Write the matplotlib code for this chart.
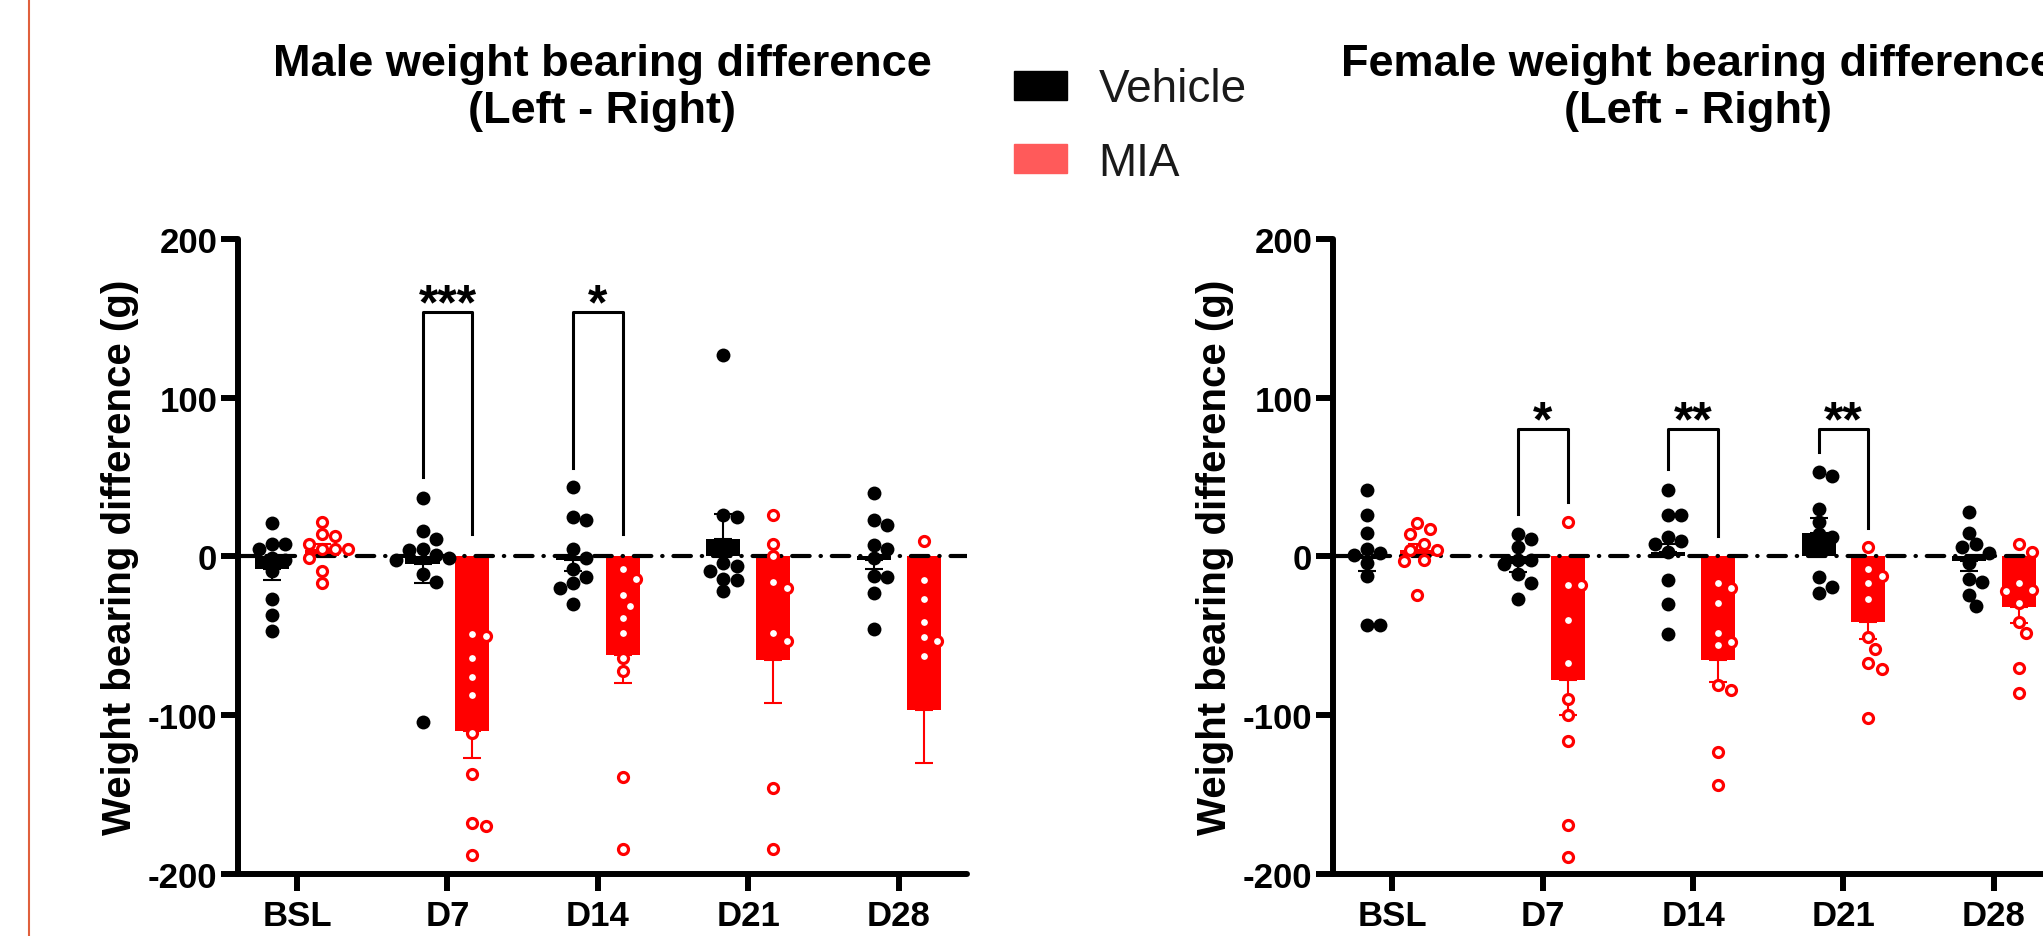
import numpy as np
import matplotlib
matplotlib.use("Agg")
import matplotlib.pyplot as plt
from matplotlib.patches import Patch
from matplotlib.lines import Line2D

plt.rcParams['font.family'] = ['Liberation Sans', 'DejaVu Sans']
plt.rcParams['axes.unicode_minus'] = False

days = ['BSL', 'D7', 'D14', 'D21', 'D28']

# male, individual animals (g)
male_veh_pts = [
    [21, 8, 8, 5, -1, -2, -9, -27, -37, -47],
    [37, 16, 11, 5, 4, 1, -1, -2, -11, -16, -104],
    [44, 25, 23, 5, -1, -8, -13, -17, -20, -30],
    [127, 26, 25, -4, -6, -9, -14, -15, -22],
    [40, 23, 20, 7, 5, -1, -12, -13, -23, -46],
]
male_mia_pts = [
    [22, 14, 13, 8, 5, 5, 5, -1, -9, -17],
    [-49, -50, -64, -76, -87, -111, -137, -168, -170, -188],
    [-8, -14, -24, -31, -39, -48, -64, -72, -139, -184],
    [26, 8, 0, -16, -20, -48, -53, -146, -184],
    [10, -15, -27, -41, -51, -53, -63],
]
male_veh_mean = [-8, -5, -2, 11, -2]
male_veh_sem = [7, 12, 7, 16, 6]
male_mia_mean = [4, -110, -62, -65, -97]
male_mia_sem = [4, 17, 18, 27, 33]

# female, individual animals (g)
female_veh_pts = [
    [42, 26, 15, 5, 2, 1, -4, -12, -43, -43],
    [14, 11, 6, -2, -2, -5, -11, -17, -27],
    [42, 26, 26, 12, 10, 8, 3, -15, -30, -49],
    [53, 51, 30, 22, 14, 12, 6, -13, -19, -23],
    [28, 15, 8, 6, 2, -4, -14, -16, -24, -31],
]
female_mia_pts = [
    [21, 17, 14, 8, 4, 4, -2, -3, -24],
    [22, -18, -18, -40, -67, -90, -100, -116, -169, -189],
    [-17, -20, -29, -48, -54, -56, -81, -84, -123, -144],
    [6, -8, -12, -17, -27, -51, -58, -67, -71, -102],
    [8, 3, -17, -21, -22, -29, -41, -48, -70, -86],
]
female_veh_mean = [-1, -4, 3, 15, -3]
female_veh_sem = [8, 6, 5, 9, 6]
female_mia_mean = [4, -78, -65, -41, -32]
female_mia_sem = [4, 22, 14, 11, 10]

# significance brackets: (day index, label, top, left leg end, right leg end)
male_sig = [(1, '***', 154, 50, 14), (2, '*', 154, 56, 14)]
female_sig = [(1, '*', 80, 27, 34), (2, '**', 80, 55, 13), (3, '**', 80, 66, 18)]

VEH = 'black'
MIA = '#ff0000'
OFF = 0.166
BW = 0.226


def swarm(vals, center, dx=0.08, dy=7.8):
    placed = []
    xs = []
    cands = [0.0]
    for j in range(1, 12):
        cands += [j * 0.55 * dx, -j * 0.55 * dx]
    for v in vals:
        for c in cands:
            if all(((c - px) / dx) ** 2 + ((v - py) / dy) ** 2 >= 1 for px, py in placed):
                break
        placed.append((c, v))
        xs.append(center + c)
    return xs


def panel(ax, title, veh_pts, mia_pts, veh_mean, veh_sem, mia_mean, mia_sem, sig):
    x = np.arange(len(days))
    ax.bar(x - OFF, veh_mean, BW, color=VEH, zorder=2)
    ax.bar(x + OFF, mia_mean, BW, color=MIA, zorder=2)
    for xs, m, s, c in [(x - OFF, veh_mean, veh_sem, VEH), (x + OFF, mia_mean, mia_sem, MIA)]:
        m = np.array(m, float)
        s = np.array(s, float)
        lo = np.where(m < 0, s, 0)
        hi = np.where(m < 0, 0, s)
        ax.errorbar(xs, m, yerr=[lo, hi], fmt='none', ecolor=c, elinewidth=1.5,
                    capsize=6.5, capthick=1.5, zorder=3)

    ax.axhline(0, color='black', lw=3, dashes=(4.2, 2.6, 0.1, 2.6),
               dash_capstyle='round', zorder=4)

    for i in range(len(days)):
        vx = swarm(veh_pts[i], i - OFF)
        ax.plot(vx, veh_pts[i], 'o', color=VEH, ms=10, mew=0, zorder=5)
        mx = swarm(mia_pts[i], i + OFF)
        ax.plot(mx, mia_pts[i], 'o', mfc='white', mec=MIA, ms=7.2, mew=2.3, zorder=6)

    for i, lab, top, l_end, r_end in sig:
        ax.plot([i - OFF, i - OFF, i + OFF, i + OFF], [l_end, top, top, r_end],
                color='black', lw=2.2, zorder=5)
        ax.text(i, top - 4, lab, ha='center', va='baseline', fontsize=36,
                fontweight='bold')

    ax.set_xlim(-0.392, 4.452)
    ax.set_ylim(-200, 200)
    ax.set_yticks([-200, -100, 0, 100, 200])
    ax.set_xticks(x)
    ax.set_xticklabels(days)
    ax.spines['top'].set_visible(False)
    ax.spines['right'].set_visible(False)
    for sp in ['left', 'bottom']:
        ax.spines[sp].set_linewidth(4.3)
        ax.spines[sp].set_capstyle('round')
    ax.tick_params(direction='out', length=12, width=4.3, labelsize=25, pad=3)
    ax.tick_params(axis='x', pad=6)
    for t in ax.get_xticklabels() + ax.get_yticklabels():
        t.set_fontweight('bold')
    ax.set_ylabel('Weight bearing difference (g)', fontsize=29, fontweight='bold',
                  labelpad=6)
    ax.set_title(title + '\n(Left - Right)', fontsize=32.5, fontweight='bold', pad=84)


fig = plt.figure(figsize=(20.43, 9.37), dpi=100)
ax1 = fig.add_axes([0.1165, 0.0662, 0.3568, 0.6777])
ax2 = fig.add_axes([0.6525, 0.0662, 0.3568, 0.6777])

panel(ax1, 'Male weight bearing difference', male_veh_pts, male_mia_pts,
      male_veh_mean, male_veh_sem, male_mia_mean, male_mia_sem, male_sig)
panel(ax2, 'Female weight bearing difference', female_veh_pts, female_mia_pts,
      female_veh_mean, female_veh_sem, female_mia_mean, female_mia_sem, female_sig)

handles = [Patch(color='black', label='Vehicle'), Patch(color='#ff5a5a', label='MIA')]
fig.legend(handles=handles, loc='upper left', bbox_to_anchor=(0.4963, 0.927),
           frameon=False, fontsize=33, handlelength=1.15, handleheight=0.59,
           handletextpad=0.7, labelspacing=0.64, borderpad=0, borderaxespad=0,
           labelcolor='#1a1a1a')

# orange rule on the left edge
fig.add_artist(Line2D([0.014, 0.014], [0, 1], transform=fig.transFigure,
                      color='#e0603c', lw=1.5))

fig.savefig('out.png', dpi=100)
